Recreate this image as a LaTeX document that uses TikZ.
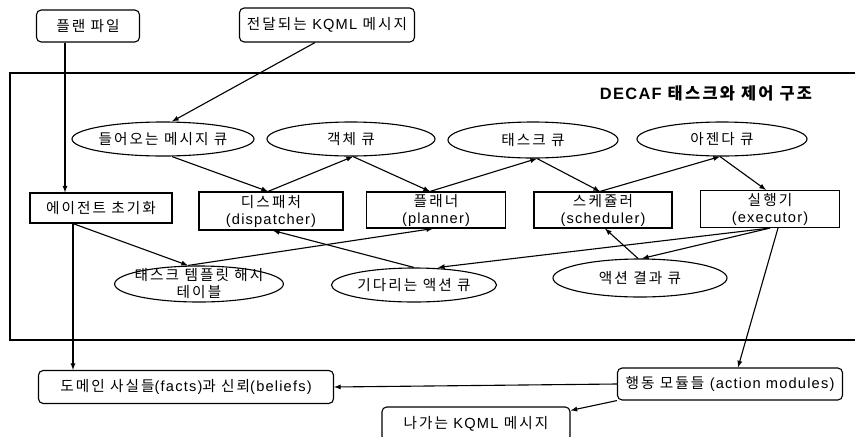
\documentclass[tikz,border=0pt]{standalone}
\usepackage{fontspec}
\setmainfont[LetterSpace=14]{Noto Sans CJK KR}
\newfontfamily\latin[LetterSpace=8]{Liberation Sans}
\usetikzlibrary{shapes.geometric}

\begin{document}
\begin{tikzpicture}[x=0.03cm,y=-0.03cm,line width=0.95pt,
    every node/.style={font=\fontsize{12.5}{14.5}\selectfont},
    rbox/.style={draw,rounded corners=4pt,align=center,inner sep=0pt},
    sbox/.style={draw,align=center,inner sep=0pt},
    queue/.style={draw,ellipse,align=center,inner sep=0pt},
    arr/.style={->,>=latex}]
      \useasboundingbox (0,0) rectangle (855,436);

      % outside the frame
      \node (plan) at (88,26) [rbox,minimum width=3.09cm,minimum height=0.96cm] {플랜 파일};
      \node (kqmlin) at (327,25) [rbox,minimum width=5.25cm,minimum height=1.02cm] {전달되는 {\latin KQML} 메시지};

      \draw (855,73) -- (10,73) -- (10,340) -- (855,340);
      \node (title) at (706,93) [font=\fontsize{14}{16}\bfseries\selectfont] {{\latin DECAF} 태스크와 제어 구조};

      % queues, top row
      \node (inq) at (163,139) [queue,minimum width=5.1cm,minimum height=1.02cm] {들어오는 메시지 큐};
      \node (objq) at (351,139) [queue,minimum width=5.04cm,minimum height=1.02cm] {객체 큐};
      \node (taskq) at (533,140) [queue,minimum width=5.1cm,minimum height=1.08cm] {태스크 큐};
      \node (agendaq) at (722,139) [queue,minimum width=5.1cm,minimum height=1.02cm] {아젠다 큐};

      % components
      \node (init) at (101,208) [sbox,minimum width=4.26cm,minimum height=0.9cm] {에이전트 초기화};
      \node (disp) at (271,211) [sbox,minimum width=4.32cm,minimum height=1.14cm] {디스패처\\{\latin (dispatcher)}};
      \node (planner) at (436,210) [sbox,minimum width=4.17cm,minimum height=1.08cm] {플래너\\{\latin (planner)}};
      \node (sched) at (603,210) [sbox,minimum width=4.14cm,minimum height=1.08cm] {스케쥴러\\{\latin (scheduler)}};
      \node (exec) at (770,209) [sbox,minimum width=4.17cm,minimum height=1.11cm] {실행기\\{\latin (executor)}};

      % queues, bottom row
      \node (tmpl) at (199,284) [queue,inner ysep=-5pt,inner xsep=-4pt,minimum width=5.04cm,minimum height=1.08cm] {태스크 템플릿 해시\\테이블};
      \node (waitq) at (414,285) [queue,minimum width=4.95cm,minimum height=1.02cm] {기다리는 액션 큐};
      \node (resultq) at (640,278) [queue,minimum width=5.22cm,minimum height=1.14cm] {액션 결과 큐};

      % below the frame
      \node (domain) at (186,387) [rbox,minimum width=8.85cm,minimum height=0.99cm] {도메인 사실들{\latin (facts)}과 신뢰{\latin (beliefs)}};
      \node (action) at (730,384) [rbox,minimum width=6.75cm,minimum height=0.96cm] {행동 모듈들 {\latin (action modules)}};
      \node (kqmlout) at (476,424) [rbox,minimum width=5.64cm,minimum height=1.02cm] {나가는 {\latin KQML} 메시지};

    \draw[arr] ([xshift=-0.69cm]plan.south) -- ([xshift=-0.69cm]plan.south |- init.north);
    \draw[arr] ([xshift=-0.36cm]kqmlin.south) -- ([xshift=0.27cm]inq.north);
    \draw[arr] ([xshift=0.27cm]inq.south) -- ([xshift=-0.09cm]disp.north);
    \draw[arr] ([xshift=-0.09cm]disp.north) -- ([xshift=0.06cm]objq.south);
    \draw[arr] ([xshift=0.06cm]objq.south) -- ([xshift=-0.18cm]planner.north);
    \draw[arr] ([xshift=-0.18cm]planner.north) -- ([xshift=0.12cm]taskq.south);
    \draw[arr] ([xshift=0.12cm]taskq.south) -- ([xshift=-0.09cm]sched.north);
    \draw[arr] ([xshift=-0.09cm]sched.north) -- ([xshift=-0.06cm]agendaq.south);
    \draw[arr] ([xshift=-0.06cm]agendaq.south) -- ([xshift=-0.12cm]exec.north);
    \draw[arr] ([xshift=-0.84cm]init.south) -- ([xshift=-0.33cm]tmpl.north);
    \draw[arr] ([xshift=-0.84cm]init.south) -- ([xshift=-0.84cm]init.south |- domain.north);
    \draw[arr] ([xshift=-0.33cm]tmpl.north) -- ([xshift=-0.09cm]planner.south);
    \draw[arr] (waitq.north) -- ([xshift=0.06cm]disp.south);
    \draw[arr] (exec.south) -- ([xshift=0.72cm]waitq.north);
    \draw[arr] (exec.south) -- ([xshift=0.06cm]resultq.north);
    \draw[arr] ([xshift=-0.06cm]resultq.north) -- ([xshift=0.06cm]sched.south);
    \draw[arr] ([xshift=0.24cm]exec.south) -- ([xshift=0.24cm]action.north);
    \draw[arr] (action.west) -- (domain.east);
    \draw[arr] (action.south west) -- ([yshift=-0.12cm]kqmlout.north east);
  \end{tikzpicture}
\end{document}
